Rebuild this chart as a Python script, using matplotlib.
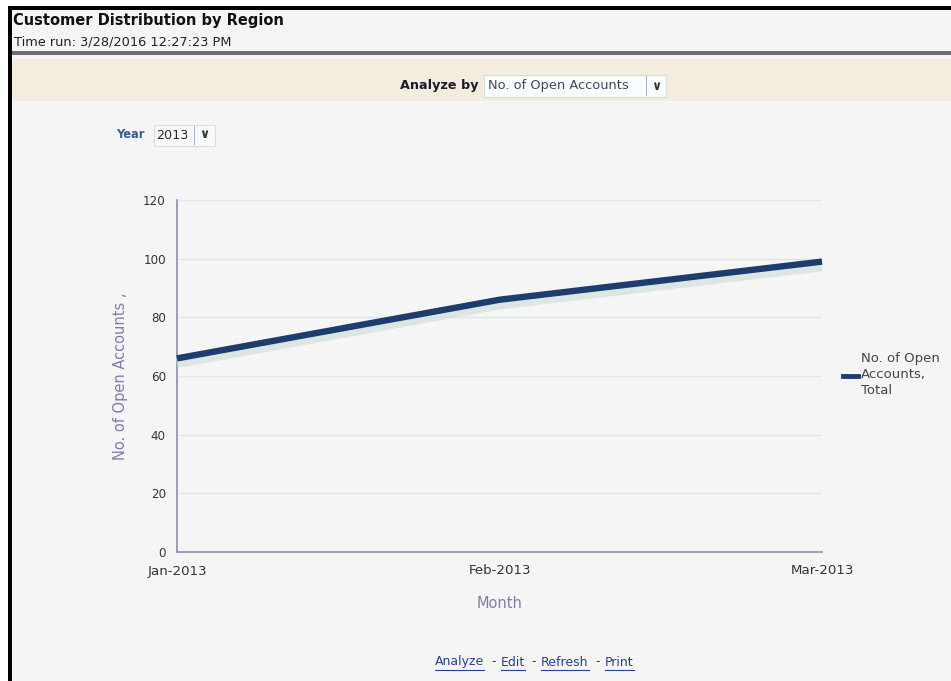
import matplotlib
matplotlib.use("Agg")
import matplotlib.pyplot as plt
import matplotlib.patheffects as pe
from matplotlib.patches import Rectangle
from matplotlib.lines import Line2D

plt.rcParams['font.family'] = ['DejaVu Sans']

# Data
months = ["Jan-2013", "Feb-2013", "Mar-2013"]
open_accounts = [66, 86, 99]
y_ticks = [0, 20, 40, 60, 80, 100, 120]
series_label = "No. of Open\nAccounts,\nTotal"

W, H = 951, 681
fig = plt.figure(figsize=(W / 100, H / 100), dpi=100)
fig.patch.set_facecolor("#f5f5f5")


def fx(px):
    return px / W


def fy(py):
    return 1 - py / H


def rect(x0, y0, x1, y1, color, ec="none", lw=0, z=0):
    fig.add_artist(Rectangle((fx(x0), fy(y1)), fx(x1) - fx(x0), fy(y0) - fy(y1),
                             transform=fig.transFigure, facecolor=color,
                             edgecolor=ec, linewidth=lw, zorder=z))


# Page frame and header
rect(0, 0, W, H, "white")
rect(9, 6, W, H, "#f5f5f5")
rect(8, 6, W, 10, "black", z=1)
rect(8, 6, 12, H, "black", z=1)
rect(12, 51, W, 55, "#6e6e6e", z=1)
rect(12, 59, W, 101, "#f4ecdc", z=1)

fig.text(fx(13), fy(21), "Customer Distribution by Region", fontsize=10.5,
         fontweight="bold", color="#111111", va="center", ha="left")
fig.text(fx(14), fy(42), "Time run: 3/28/2016 12:27:23 PM", fontsize=9.3,
         color="#222222", va="center", ha="left")

# Analyze-by prompt
fig.text(fx(478), fy(86), "Analyze by", fontsize=9.2, fontweight="bold",
         color="#1a1a2e", va="center", ha="right")
rect(484, 75, 666, 97, "#fbfcfe", ec="#d5dbe5", lw=0.8, z=2)
fig.text(fx(488), fy(86), "No. of Open Accounts", fontsize=9.4,
         color="#3d4a66", va="center", ha="left", zorder=3)
rect(646, 76, 647, 96, "#9fb3cf", z=3)
fig.text(fx(656), fy(86), "\u2228", fontsize=9, fontweight="bold",
         color="#333333", va="center", ha="center", zorder=3)

# Year prompt
fig.text(fx(116), fy(135), "Year", fontsize=8.3, fontweight="bold",
         color="#3a5a92", va="center", ha="left")
rect(154, 125, 215, 146, "#f8f9fb", ec="#d9dee6", lw=0.8, z=2)
fig.text(fx(156), fy(135.5), "2013", fontsize=9.2, color="#2a2a2a",
         va="center", ha="left", zorder=3)
rect(194, 126, 195, 145, "#9fb3cf", z=3)
fig.text(fx(204), fy(135), "\u2228", fontsize=9, fontweight="bold",
         color="#333333", va="center", ha="center", zorder=3)

# Chart
ax = fig.add_axes([fx(177), fy(552), fx(822) - fx(177), fy(200) - fy(552)])
ax.set_facecolor("#f5f5f5")
x = list(range(len(months)))
ax.plot(x, open_accounts, color="#1d3d6e", linewidth=4.6, solid_capstyle="butt",
        path_effects=[pe.SimpleLineShadow(offset=(0, -3.5), shadow_color="#d3e0dc",
                                          alpha=0.7, linewidth=7),
                      pe.Normal()], zorder=3, clip_on=False)
ax.set_xlim(0, len(months) - 1)
ax.set_ylim(0, 120)
ax.set_yticks(y_ticks)
ax.set_xticks(x)
ax.set_xticklabels(months)
ax.yaxis.grid(True, color="#dde7e7", linewidth=1.0)
ax.set_axisbelow(True)
for side in ("top", "right"):
    ax.spines[side].set_visible(False)
for side in ("left", "bottom"):
    ax.spines[side].set_color("#8b90ab")
    ax.spines[side].set_linewidth(1.2)
ax.tick_params(axis="y", length=0, labelsize=8.6, labelcolor="#333333", pad=8)
ax.tick_params(axis="x", length=0, labelsize=9.6, labelcolor="#333333", pad=9)
ax.set_xlabel("Month", fontsize=10.5, color="#7c7fa6", labelpad=13)
ax.set_ylabel("No. of Open Accounts ,", fontsize=10.5, color="#7c7fa6", labelpad=11)

# Legend
fig.add_artist(Line2D([fx(843), fx(858)], [fy(376), fy(376)], color="#1d3d6e",
                      linewidth=3.5, transform=fig.transFigure))
fig.text(fx(861), fy(375), series_label, fontsize=9.5, color="#444444",
         va="center", ha="left", linespacing=1.3)

# Footer links
links = ["Analyze", "Edit", "Refresh", "Print"]
link_x = [435, 501, 541, 605]
for i, (name, lx) in enumerate(zip(links, link_x)):
    t = fig.text(fx(lx), fy(662), name, fontsize=9.0, color="#2b3f8f",
                 va="center", ha="left")
    fig.canvas.draw()
    bb = t.get_window_extent()
    fig.add_artist(Line2D([bb.x0 / W, bb.x1 / W], [fy(670), fy(670)],
                          color="#2b3f8f", linewidth=0.8, transform=fig.transFigure))
    if i > 0:
        fig.text(fx(lx - 5), fy(662), "-", fontsize=9.0, color="#333333",
                 va="center", ha="right")

fig.savefig("out.png", dpi=100, facecolor=fig.get_facecolor())
